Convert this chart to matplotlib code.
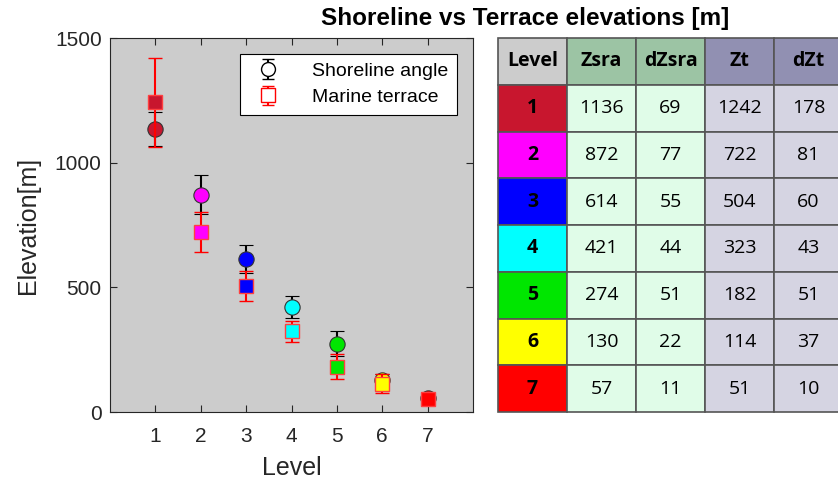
import numpy as np
import matplotlib.pyplot as plt
from matplotlib.patches import Rectangle

# terrace levels and elevations [m]
levels = [1, 2, 3, 4, 5, 6, 7]
zsra = [1136, 872, 614, 421, 274, 130, 57]
dzsra = [69, 77, 55, 44, 51, 22, 11]
zt = [1242, 722, 504, 323, 182, 114, 51]
dzt = [178, 81, 60, 43, 51, 37, 10]
level_colors = ["#C8162E", "#FF00FF", "#0000FF", "#00FFFF", "#00E600", "#FFFF00", "#FF0000"]
headers = ["Level", "Zsra", "dZsra", "Zt", "dZt"]

plt.rcParams["font.family"] = ["Liberation Sans", "DejaVu Sans"]

fig = plt.figure(figsize=(8.38, 4.8), dpi=100)
ax = fig.add_axes([110 / 838, 1 - 412 / 480, 363 / 838, 374 / 480])
ax.set_facecolor("#CCCCCC")

for i, lv in enumerate(levels):
    ax.errorbar(lv, zsra[i], yerr=dzsra[i], fmt="o", ms=11, mfc=level_colors[i],
                mec="#333333", mew=0.8, ecolor="black", elinewidth=1.5, capsize=5,
                capthick=2, zorder=3)
for i, lv in enumerate(levels):
    ax.errorbar(lv, zt[i], yerr=dzt[i], fmt="s", ms=10.5, mfc=level_colors[i],
                mec="#FF4040", mew=1.0, ecolor="red", elinewidth=1.5, capsize=5,
                capthick=2, zorder=4)

# open-marker handles for the legend
h1 = ax.errorbar([np.nan], [np.nan], yerr=[1], fmt="o", ms=10, mfc="white", mec="black",
                 ecolor="black", capsize=4)
h2 = ax.errorbar([np.nan], [np.nan], yerr=[1], fmt="s", ms=10, mfc="white", mec="red",
                 ecolor="red", capsize=4)
leg = ax.legend([h1, h2], ["Shoreline angle", "Marine terrace"], loc="upper right",
                fontsize=14, fancybox=False, framealpha=1, edgecolor="black",
                borderaxespad=0.8, handletextpad=1.3, borderpad=0.45, labelspacing=0.45,
                handlelength=2.0)
leg.get_frame().set_linewidth(0.8)

ax.set_xlim(0, 8)
ax.set_ylim(0, 1500)
ax.set_xticks(levels)
ax.set_yticks([0, 500, 1000, 1500])
ax.tick_params(direction="in", top=True, right=True, labelsize=15, length=5, pad=6,
               colors="#262626", labelcolor="#262626")
ax.tick_params(axis="x", pad=11)
for sp in ax.spines.values():
    sp.set_color("#262626")
    sp.set_linewidth(0.8)
ax.set_xlabel("Level", fontsize=18, color="#262626", labelpad=7)
ax.set_ylabel("Elevation[m]", fontsize=18, color="#262626", labelpad=11)

# table of values on the right
tax = fig.add_axes([498 / 838, 1 - 412 / 480, 345 / 838, 374 / 480])
tax.set_xlim(0, 5)
tax.set_ylim(8, 0)
tax.axis("off")

head_colors = ["#CCCCCC", "#9CC4A4", "#9CC4A4", "#9190B2", "#9190B2"]
body_colors = [None, "#E0FCE8", "#E0FCE8", "#D5D4E2", "#D5D4E2"]
for c in range(5):
    tax.add_patch(Rectangle((c, 0), 1, 1, fc=head_colors[c], ec="#555555", lw=1.2,
                            clip_on=False))
    tax.text(c + 0.5, 0.5, headers[c], ha="center", va="center", fontsize=14,
             fontweight="bold", family="Open Sans")
for r in range(7):
    row = [levels[r], zsra[r], dzsra[r], zt[r], dzt[r]]
    for c in range(5):
        fc = level_colors[r] if c == 0 else body_colors[c]
        tax.add_patch(Rectangle((c, r + 1), 1, 1, fc=fc, ec="#555555", lw=1.2,
                                clip_on=False))
        tax.text(c + 0.5, r + 1.5, str(row[c]), ha="center", va="center", fontsize=14,
                 fontweight="bold" if c == 0 else "normal", family="Open Sans")

fig.text(525 / 838, 1 - 19 / 480, "Shoreline vs Terrace elevations [m]", ha="center",
         va="center", fontsize=17.5, fontweight="bold")

fig.savefig("out.png", dpi=100)
